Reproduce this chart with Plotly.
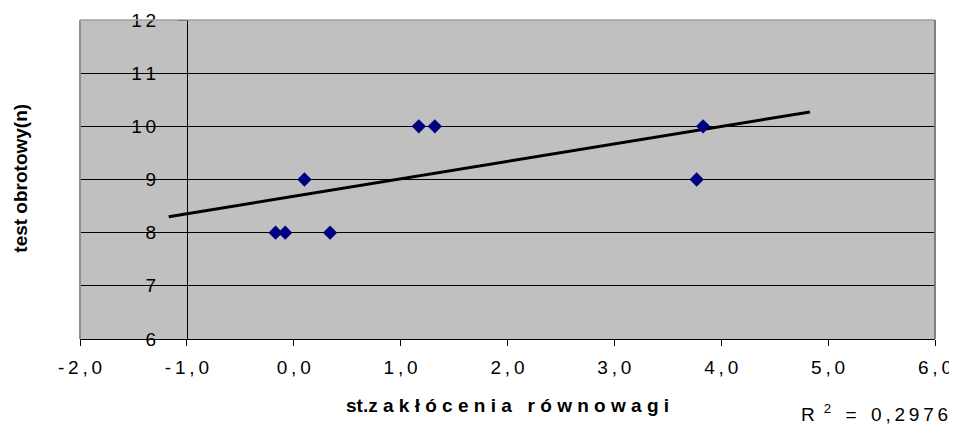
import plotly.graph_objects as go

# ---- data ----
x_vals = [-0.17, -0.08, 0.10, 0.34, 1.17, 1.32, 3.83, 3.77]
y_vals = [8, 8, 9, 8, 10, 10, 10, 9]

trend_x = [-1.17, 4.83]
trend_y = [8.30, 10.27]

x_tick_vals = [-2, -1, 0, 1, 2, 3, 4, 5, 6]
x_tick_labels = ["-2,0", "-1,0", "0,0", "1,0", "2,0", "3,0", "4,0", "5,0", "6,0"]
y_tick_vals = [6, 7, 8, 9, 10, 11, 12]
y_tick_labels = ["6", "7", "8", "9", "10", "11", "12"]

x_title_head = "st.z"
x_title_tail = "akłócenia równowagi"
y_title = "test obrotowy(n)"
r2_value = "0,2976"

x_range = [-2, 6]
y_range = [6, 12]
y_axis_cross = -1.0  # value of x where the vertical axis crosses

# ---- helpers ----
NB = "\u00a0"
THIN = "\u2009"


def spaced(s, gap, word_gap=None):
    if word_gap is None:
        word_gap = gap + NB + gap
    parts = s.split(" ")
    return word_gap.join(gap.join(p) for p in parts)


FONT = "Arial, 'Liberation Sans', sans-serif"

fig = go.Figure()

fig.add_trace(go.Scatter(
    x=trend_x, y=trend_y, mode="lines",
    line=dict(color="black", width=3),
    hoverinfo="skip", showlegend=False,
))

fig.add_trace(go.Scatter(
    x=x_vals, y=y_vals, mode="markers",
    marker=dict(symbol="diamond", size=11, color="#000080",
                line=dict(width=0)),
    showlegend=False,
))

cross_pos = (y_axis_cross - x_range[0]) / (x_range[1] - x_range[0])

# page body adds an 8px offset; figure sized so its right edge meets the
# window edge and the plot area lands at x 80..935, y 20..339 like the reference
fig.update_layout(
    width=949, height=418,
    margin=dict(l=72, r=22, t=12, b=87, autoexpand=False),
    paper_bgcolor="white",
    plot_bgcolor="#C0C0C0",
    font=dict(family=FONT, size=19, color="black"),
    xaxis=dict(
        range=x_range,
        automargin=False,
        tickmode="array",
        tickvals=x_tick_vals,
        ticktext=[spaced(t, THIN) for t in x_tick_labels],
        ticks="outside", ticklen=6, tickcolor="black", tickwidth=1,
        showline=True, linecolor="black", linewidth=1,
        showgrid=False, zeroline=False,
        tickfont=dict(family=FONT, size=19, color="black"),
        ticklabelstandoff=5,
        ticklabeloverflow="allow",
    ),
    yaxis=dict(
        range=y_range,
        automargin=False,
        anchor="free", position=cross_pos,
        tickmode="array",
        tickvals=y_tick_vals,
        ticktext=[spaced(t, THIN) for t in y_tick_labels],
        ticks="outside", ticklen=9, tickcolor="black", tickwidth=1,
        showline=True, linecolor="black", linewidth=1,
        showgrid=True, gridcolor="black", gridwidth=1,
        zeroline=False,
        tickfont=dict(family=FONT, size=19, color="black"),
        ticklabelstandoff=18,
        ticklabeloverflow="allow",
    ),
    shapes=[
        dict(type="line", xref="paper", yref="paper", x0=0, x1=0, y0=0, y1=1,
             line=dict(color="#909090", width=2), layer="above"),
        dict(type="line", xref="paper", yref="paper", x0=0, x1=1, y0=1, y1=1,
             line=dict(color="#A0A0A0", width=1.5), layer="above"),
        dict(type="line", xref="paper", yref="paper", x0=1, x1=1, y0=0, y1=1,
             line=dict(color="#808080", width=2), layer="above"),
    ],
    annotations=[
        dict(text="<b>" + x_title_head + NB + spaced(x_title_tail, NB, NB * 3) + "</b>",
             xref="paper", yref="paper", x=0.5, y=-0.207,
             xanchor="center", yanchor="middle", showarrow=False,
             font=dict(family=FONT, size=19, color="black")),
        dict(text="<b>" + y_title + "</b>",
             xref="paper", yref="paper", x=-0.070, y=0.503,
             xanchor="center", yanchor="middle", textangle=-90,
             showarrow=False,
             font=dict(family=FONT, size=19, color="black")),
        dict(text="R" + NB + THIN + "<sup>2</sup>" + NB + NB + THIN + "=" + NB + NB + THIN
                  + spaced(r2_value, THIN),
             xref="paper", yref="paper", x=1.0175, y=-0.232,
             xanchor="right", yanchor="middle", showarrow=False,
             font=dict(family=FONT, size=19, color="black")),
    ],
)

fig.write_html("out.html")
